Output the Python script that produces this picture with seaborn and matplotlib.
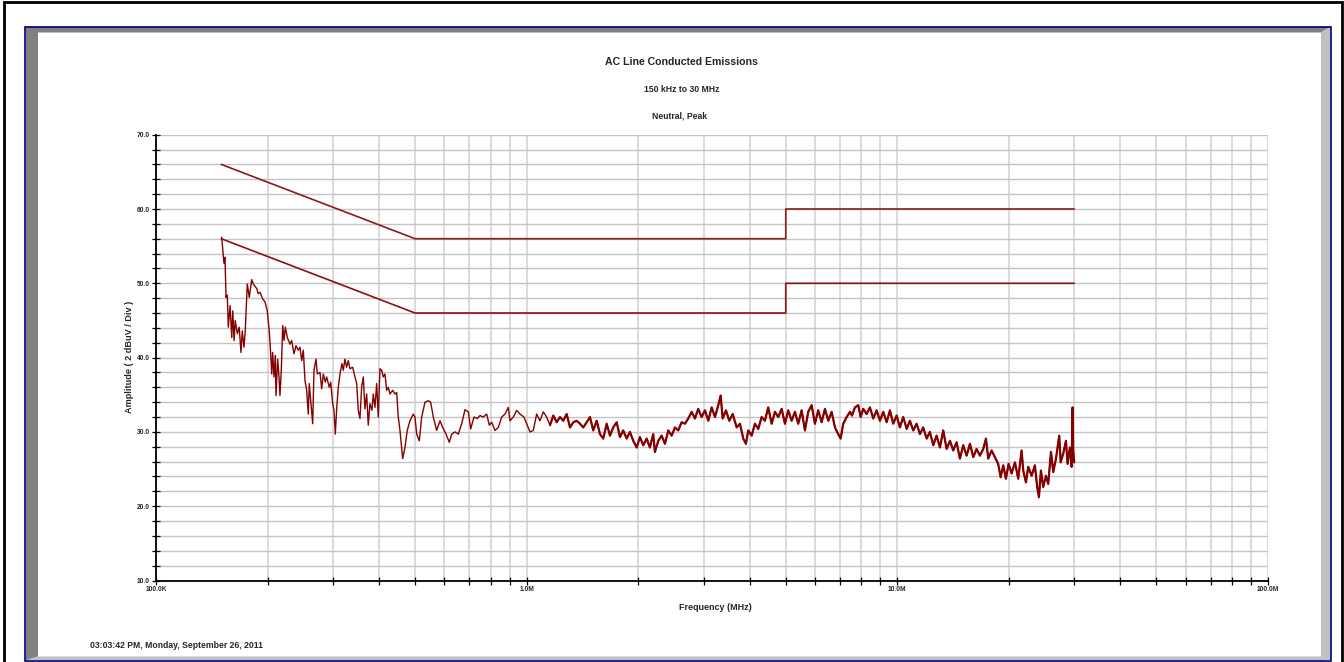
import matplotlib
matplotlib.use("Agg")
import matplotlib.pyplot as plt
from matplotlib.patches import Rectangle, Polygon
from matplotlib.ticker import FixedLocator, MultipleLocator, NullFormatter
import seaborn as sns
import pandas as pd
import warnings
warnings.filterwarnings("ignore")

# ---------------- data ----------------
FREQ_MHZ = [
    0.1504, 0.1525, 0.1535, 0.1545, 0.1557, 0.1567, 0.1584, 0.1601, 0.1611, 0.1624,
    0.1636, 0.1657, 0.1677, 0.1695, 0.1709, 0.1727, 0.1741, 0.1763, 0.1785, 0.1812,
    0.1830, 0.1869, 0.1888, 0.1908, 0.1940, 0.1968, 0.1996, 0.2021, 0.2039, 0.2052,
    0.2064, 0.2081, 0.2098, 0.2107, 0.2129, 0.2147, 0.2160, 0.2178, 0.2197, 0.2215,
    0.2233, 0.2261, 0.2299, 0.2323, 0.2357, 0.2386, 0.2420, 0.2446, 0.2472, 0.2497,
    0.2523, 0.2550, 0.2575, 0.2591, 0.2619, 0.2647, 0.2668, 0.2702, 0.2724, 0.2770,
    0.2799, 0.2827, 0.2862, 0.2887, 0.2934, 0.2960, 0.2997, 0.3021, 0.3046, 0.3072,
    0.3103, 0.3136, 0.3175, 0.3201, 0.3234, 0.3268, 0.3301, 0.3336, 0.3393, 0.3442,
    0.3479, 0.3513, 0.3550, 0.3588, 0.3624, 0.3662, 0.3701, 0.3738, 0.3778, 0.3825,
    0.3856, 0.3897, 0.3939, 0.3978, 0.4020, 0.4062, 0.4103, 0.4147, 0.4191, 0.4233,
    0.4278, 0.4350, 0.4413, 0.4460, 0.4504,
    0.4552, 0.4629, 0.4695, 0.4763, 0.4844, 0.4944, 0.4997, 0.5050, 0.5132, 0.5209,
    0.5317, 0.5427, 0.5508, 0.5599, 0.5718, 0.5837, 0.5936, 0.6059, 0.6184, 0.6277,
    0.6407, 0.6540, 0.6680, 0.6818, 0.6959, 0.7063, 0.7209, 0.7358, 0.7482, 0.7638,
    0.7801, 0.7928, 0.8047, 0.8214, 0.8384, 0.8563, 0.8740, 0.8921, 0.9016, 0.9204,
    0.9397, 0.9592, 0.9833, 1.000, 1.021, 1.042, 1.064, 1.086, 1.109, 1.132,
    1.156, 1.180, 1.205, 1.230, 1.255, 1.282, 1.309, 1.336, 1.364, 1.393,
    1.421, 1.452, 1.482, 1.512, 1.545, 1.577, 1.609, 1.644, 1.678, 1.712,
    1.749, 1.785, 1.822, 1.861, 1.899, 1.939, 1.981, 2.021, 2.063, 2.107,
    2.150, 2.195, 2.218, 2.265, 2.313, 2.361, 2.410, 2.462, 2.512, 2.564,
    2.619, 2.673, 2.729, 2.787, 2.844, 2.903, 2.965, 3.027, 3.090, 3.156,
    3.221, 3.288, 3.337, 3.379, 3.449, 3.520, 3.596, 3.686, 3.762, 3.840,
    3.905, 3.961, 4.046, 4.129, 4.215, 4.304, 4.393, 4.484, 4.580, 4.675,
    4.772, 4.874, 4.975, 5.078, 5.186, 5.293, 5.403, 5.518, 5.632, 5.749,
    5.872, 5.994, 6.118, 6.249, 6.379, 6.511, 6.650, 6.788, 6.928, 7.031,
    7.146, 7.300, 7.451, 7.544, 7.686, 7.845, 7.962, 8.091, 8.264, 8.435,
    8.610, 8.794, 8.976, 9.162, 9.357, 9.550, 9.748, 9.957, 10.16, 10.37,
    10.60, 10.81, 11.04, 11.27, 11.51, 11.74, 12.00, 12.24, 12.50, 12.76,
    13.03, 13.30, 13.58, 13.87, 14.15, 14.45, 14.75, 15.06, 15.38, 15.70,
    16.03, 16.36, 16.70, 17.05, 17.34, 17.59, 17.96, 18.33, 18.71, 19.00,
    19.31, 19.63, 19.96, 20.34, 20.76, 21.19, 21.64, 21.86, 22.23, 22.55,
    23.03, 23.50, 23.84, 24.10, 24.40, 24.75, 25.17, 25.53, 25.97, 26.34,
    26.79, 27.34, 27.58, 28.03, 28.50, 28.80, 29.21, 29.53, 29.71, 29.82,
    30.00,
]
AMP_DBUV = [
    56.2, 52.7, 53.5, 48.1, 48.4, 44.1, 47.0, 42.7, 46.3, 42.3,
    45.0, 43.2, 44.1, 40.7, 43.6, 41.4, 43.6, 49.9, 48.1, 50.5,
    49.9, 49.3, 48.6, 48.8, 47.9, 47.5, 46.3, 43.6, 40.5, 37.8,
    40.7, 37.4, 40.3, 34.9, 39.8, 37.4, 34.9, 38.3, 44.3, 42.3,
    44.1, 42.7, 41.8, 42.3, 40.5, 41.6, 41.0, 41.4, 39.6, 41.0,
    36.9, 35.6, 32.4, 36.5, 33.8, 31.1, 38.3, 39.8, 37.8, 38.0,
    35.8, 37.8, 36.7, 37.4, 36.0, 36.7, 33.8, 32.9, 29.7, 33.1,
    36.0, 37.8, 39.2, 38.3, 39.8, 38.7, 39.6, 38.5, 38.7, 37.4,
    36.5, 32.9, 31.8, 36.0, 37.4, 33.1, 35.1, 30.9, 33.8, 32.9,
    35.1, 33.3, 36.5, 32.0, 38.5, 38.3, 37.4, 37.8, 35.6, 36.0,
    35.1, 35.6, 35.1, 35.3, 32.0,
    30.2, 26.4, 27.9, 30.2, 31.5, 32.4, 32.0, 29.7, 28.8, 32.0,
    34.0, 34.2, 34.0, 32.0, 30.2, 31.5, 30.6, 29.7, 28.6, 29.7,
    30.0, 29.7, 31.1, 33.0, 32.7, 30.4, 32.0, 31.8, 32.2, 32.0,
    32.4, 30.9, 31.3, 30.2, 30.6, 32.0, 32.4, 33.3, 31.5, 32.0,
    32.9, 32.4, 32.0, 31.1, 30.0, 30.2, 32.4, 31.5, 32.7, 32.0,
    30.9, 32.2, 31.3, 32.0, 31.5, 32.4, 30.6, 31.3, 31.5, 31.1,
    30.6, 31.3, 32.0, 30.2, 31.5, 29.7, 29.1, 31.1, 29.5, 30.6,
    31.3, 29.3, 30.2, 29.1, 30.0, 28.8, 27.9, 29.3, 28.2, 29.1,
    27.9, 29.7, 27.3, 28.8, 29.5, 28.4, 30.2, 29.5, 30.6, 30.2,
    31.3, 31.1, 31.8, 32.7, 31.8, 33.1, 32.0, 32.9, 31.5, 33.3,
    32.0, 33.6, 34.9, 31.8, 32.9, 31.5, 32.4, 30.6, 31.1, 29.1,
    28.4, 30.2, 29.5, 31.1, 30.4, 32.0, 31.5, 33.3, 31.1, 32.7,
    32.0, 33.1, 31.1, 32.9, 31.5, 32.7, 31.1, 32.9, 30.2, 32.7,
    33.6, 31.1, 32.9, 31.3, 33.1, 31.5, 32.7, 30.6, 29.7, 29.1,
    31.1, 32.0, 32.7, 32.2, 33.3, 33.6, 32.0, 33.1, 32.4, 33.3,
    31.8, 32.9, 31.5, 32.7, 31.3, 32.9, 31.1, 32.2, 30.6, 32.0,
    30.4, 31.5, 30.2, 31.1, 29.7, 30.6, 29.1, 30.0, 28.2, 29.5,
    27.9, 30.2, 27.7, 28.8, 27.5, 28.6, 26.4, 28.2, 26.8, 28.4,
    26.6, 27.7, 26.8, 27.7, 29.1, 26.4, 27.5, 26.6, 25.7, 23.9,
    25.5, 23.7, 25.7, 24.4, 25.9, 23.7, 27.5, 24.8, 23.2, 25.3,
    24.1, 25.5, 22.6, 21.2, 24.8, 22.6, 24.1, 23.0, 27.3, 24.6,
    26.4, 29.5, 25.9, 27.1, 28.8, 25.7, 27.9, 25.3, 33.3, 27.5,
    25.9,
]

LIMIT_FREQ_MHZ = [0.15, 0.5, 5.0, 5.0, 30.0]
QP_LIMIT_DBUV = [66.0, 56.0, 56.0, 60.0, 60.0]
AV_LIMIT_DBUV = [56.0, 46.0, 46.0, 50.0, 50.0]

X_TICKS = [0.1, 1.0, 10.0, 100.0]
X_TICK_LABELS = ["100.0K", "1.0M", "10.0M", "100.0M"]
Y_TICKS = [10, 20, 30, 40, 50, 60, 70]
Y_TICK_LABELS = ["10.0", "20.0", "30.0", "40.0", "50.0", "60.0", "70.0"]

TITLE = "AC Line Conducted Emissions"
SUBTITLE1 = "150 kHz to 30 MHz"
SUBTITLE2 = "Neutral, Peak"
X_LABEL = "Frequency (MHz)"
Y_LABEL = "Amplitude ( 2 dBuV / Div )"
STAMP = "03:03:42 PM, Monday, September 26, 2011"

# ---------------- style ----------------
sns.set_theme(style="white")
FONT = ["Liberation Sans Narrow", "Liberation Sans", "DejaVu Sans"]
plt.rcParams["font.family"] = FONT

W, H = 1344, 662
fig = plt.figure(figsize=(W / 100, H / 100), dpi=100)
fig.patch.set_facecolor("white")


def fx(x):
    return x / W


def fy(y):
    return 1 - y / H


# outer black border
fig.add_artist(Rectangle((fx(4), fy(700)), fx(1342) - fx(4), fy(2.5) - fy(700),
                         transform=fig.transFigure, fill=False, edgecolor="black",
                         linewidth=2.0, zorder=0))
# bevel frame
L, T, R, B = 25.5, 26.5, 1331, 660.5
fig.add_artist(Polygon([(fx(L), fy(T)), (fx(R), fy(T)), (fx(R - 10), fy(T + 6)),
                        (fx(L + 12.5), fy(T + 6)), (fx(L + 12.5), fy(B - 4)), (fx(L), fy(B))],
                       closed=True, transform=fig.transFigure, facecolor="#808080",
                       edgecolor="none", zorder=0))
fig.add_artist(Polygon([(fx(R), fy(T)), (fx(R), fy(B)), (fx(L), fy(B)),
                        (fx(L + 12.5), fy(B - 4)), (fx(R - 10), fy(B - 4)), (fx(R - 10), fy(T + 6))],
                       closed=True, transform=fig.transFigure, facecolor="#c0c0c0",
                       edgecolor="none", zorder=0))
fig.add_artist(Rectangle((fx(L), fy(B)), fx(R) - fx(L), fy(T) - fy(B),
                         transform=fig.transFigure, fill=False, edgecolor="#000080",
                         linewidth=1.2, zorder=1))

ax = fig.add_axes([fx(156), fy(580.5), fx(1268) - fx(156), fy(134.7) - fy(580.5)])
ax.set_facecolor("white")

trace = pd.DataFrame({"freq": FREQ_MHZ, "amp": AMP_DBUV})
dense = trace[trace["freq"] >= 1.15]
qp = pd.DataFrame({"freq": LIMIT_FREQ_MHZ, "amp": QP_LIMIT_DBUV})
av = pd.DataFrame({"freq": LIMIT_FREQ_MHZ, "amp": AV_LIMIT_DBUV})

sns.lineplot(data=qp, x="freq", y="amp", ax=ax, color="#8b1a1a", linewidth=1.2,
             sort=False, estimator=None, zorder=3)
sns.lineplot(data=av, x="freq", y="amp", ax=ax, color="#8b1010", linewidth=1.2,
             sort=False, estimator=None, zorder=3)
sns.lineplot(data=trace, x="freq", y="amp", ax=ax, color="#850000", linewidth=1.0,
             sort=False, estimator=None, zorder=4)
sns.lineplot(data=dense, x="freq", y="amp", ax=ax, color="#850000", linewidth=1.6,
             sort=False, estimator=None, zorder=4)

ax.set_xscale("log")
ax.set_xlim(0.1, 100)
ax.set_ylim(10, 70)

minor_x = [m * 10.0 ** e for e in (-1, 0, 1) for m in range(2, 10)]
ax.xaxis.set_major_locator(FixedLocator(X_TICKS))
ax.xaxis.set_minor_locator(FixedLocator(minor_x))
ax.xaxis.set_minor_formatter(NullFormatter())
ax.set_xticks(X_TICKS)
ax.set_xticklabels(X_TICK_LABELS)
ax.set_yticks(Y_TICKS)
ax.set_yticklabels(Y_TICK_LABELS)
ax.yaxis.set_minor_locator(MultipleLocator(2))

ax.grid(True, which="both", axis="x", color="#d8d8d8", linewidth=1.3, zorder=0)
ax.grid(True, which="both", axis="y", color="#c4c4c4", linewidth=1.0, zorder=0)
ax.set_axisbelow(True)

for s in ("top", "right"):
    ax.spines[s].set_visible(False)
for s in ("left", "bottom"):
    ax.spines[s].set_color("black")
    ax.spines[s].set_linewidth(1.3)

ax.tick_params(which="both", direction="inout", length=5.5, width=0.9, color="black",
               left=True, bottom=True)
ax.tick_params(axis="both", which="major", labelsize=4.8, pad=1.5)
for lab in ax.get_xticklabels() + ax.get_yticklabels():
    lab.set_fontweight("bold")
    lab.set_family(FONT)

ax.set_xlabel("")
ax.set_ylabel("")

fig.text(fx(681), fy(62), TITLE, ha="center", va="center", fontsize=7.6,
         fontweight="bold", family=FONT)
fig.text(fx(682), fy(90), SUBTITLE1, ha="center", va="center", fontsize=6.2,
         fontweight="bold", family=FONT)
fig.text(fx(680), fy(116), SUBTITLE2, ha="center", va="center", fontsize=6.2,
         fontweight="bold", family=FONT)
fig.text(fx(715), fy(607), X_LABEL, ha="center", va="center", fontsize=6.5,
         fontweight="bold", family=FONT)
fig.text(fx(130), fy(357), Y_LABEL, ha="center", va="center", fontsize=6.6,
         fontweight="bold", rotation=90, family=FONT)
fig.text(fx(90), fy(645), STAMP, ha="left", va="center", fontsize=6.2,
         fontweight="bold", family=FONT)

fig.savefig("out.png", dpi=100, facecolor="white")
